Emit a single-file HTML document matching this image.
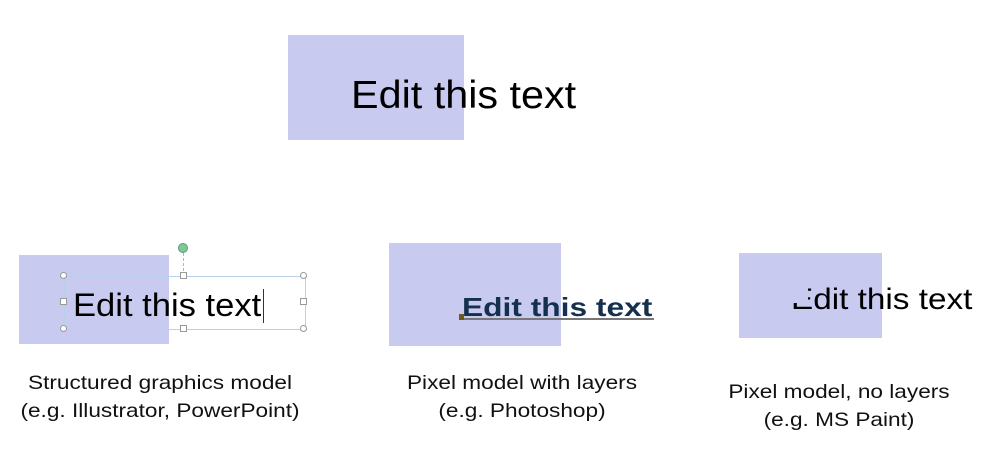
<!DOCTYPE html>
<html><head><style>
body{margin:0;width:990px;height:462px;background:#fff;position:relative;overflow:hidden;font-family:"Liberation Sans",Arial,sans-serif}
.r{position:absolute;background:#c8caf0}
.t{position:absolute;white-space:nowrap;line-height:1;transform-origin:left top}
.c{position:absolute;text-align:center;font-size:19.5px;line-height:28px;color:#111;white-space:nowrap;transform:scaleX(1.16);transform-origin:center top}
.h{position:absolute;width:7px;height:7px;border:1px solid #999;background:#fff;box-sizing:border-box}
.hc{border-radius:50%}
</style></head><body>
<div class="r" style="left:288px;top:35px;width:176px;height:105px"></div>
<div class="t" style="left:351px;top:76px;font-size:39px;color:#000;transform:scaleX(1.06)">Edit this text</div>

<div class="r" style="left:19px;top:255px;width:150px;height:89px"></div>
<div style="position:absolute;left:64px;top:276px;width:240px;height:52px;border:1px solid #b8d0ec"></div>
<div style="position:absolute;left:183px;top:253px;height:18px;border-left:1px dashed #9fb9d8"></div>
<div style="position:absolute;left:178px;top:243px;width:10px;height:10px;border-radius:50%;background:#7cc89a;border:1px solid #5a9c72;box-sizing:border-box"></div>
<div class="h hc" style="left:60px;top:272px"></div>
<div class="h" style="left:180px;top:272px"></div>
<div class="h hc" style="left:300px;top:272px"></div>
<div class="h" style="left:60px;top:298px"></div>
<div class="h" style="left:300px;top:298px"></div>
<div class="h hc" style="left:60px;top:325px"></div>
<div class="h" style="left:180px;top:325px"></div>
<div class="h hc" style="left:300px;top:325px"></div>
<div class="t" style="left:73px;top:289px;font-size:32px;color:#000;transform:scaleX(1.08)">Edit this text</div>
<div style="position:absolute;left:263px;top:289px;height:34px;border-left:1.5px solid #333"></div>

<div class="r" style="left:389px;top:243px;width:172px;height:103px"></div>
<div style="position:absolute;left:462px;top:318px;width:192px;border-top:2px solid #777"></div>
<div style="position:absolute;left:459px;top:314px;width:5px;height:6px;background:#6b5a1a"></div>
<div class="t" style="left:462px;top:294px;font-size:26px;font-weight:bold;color:#14304c;transform:scaleX(1.22)">Edit this text</div>

<div class="r" style="left:739px;top:253px;width:143px;height:85px"></div>
<div class="t" style="left:791px;top:285px;font-size:30px;color:#000;transform:scaleX(1.11)">Edit this text</div>
<div class="r" style="left:790px;top:287px;width:18px;height:16px"></div>

<div class="c" style="left:10px;top:369px;width:300px">Structured graphics model<br>(e.g. Illustrator, PowerPoint)</div>
<div class="c" style="left:372px;top:369px;width:300px">Pixel model with layers<br>(e.g. Photoshop)</div>
<div class="c" style="left:689px;top:378px;width:300px">Pixel model, no layers<br>(e.g. MS Paint)</div>
</body></html>
